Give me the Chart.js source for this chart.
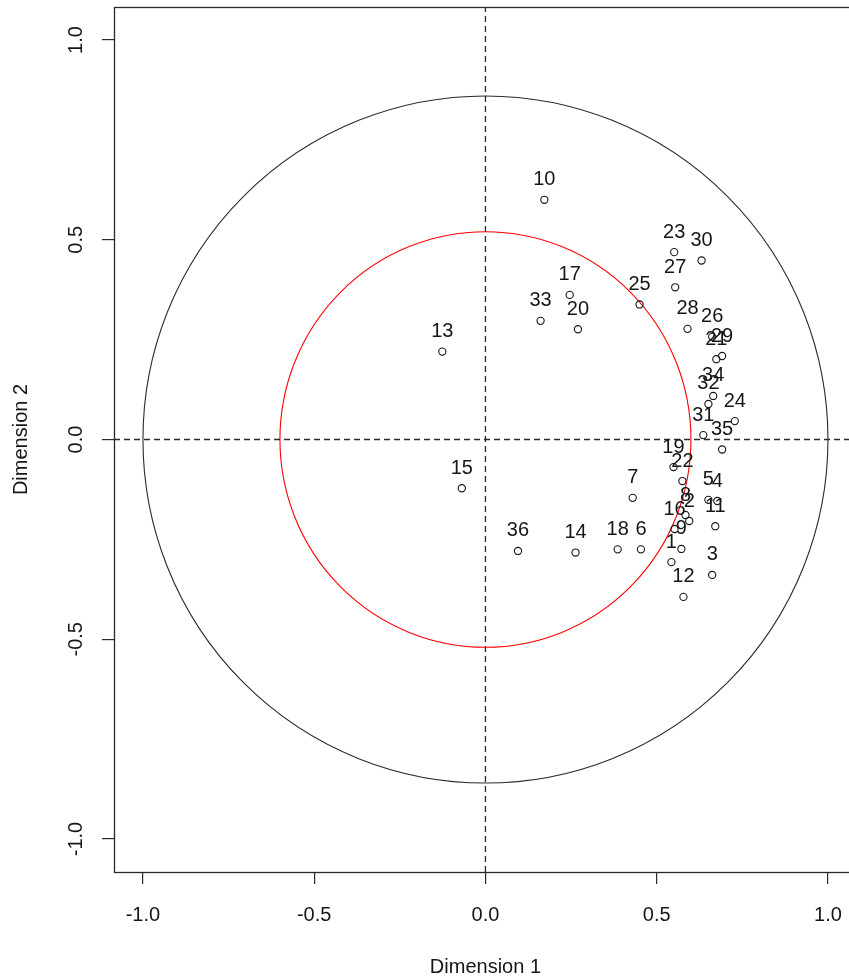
<!DOCTYPE html>
<html>
<head>
<meta charset="utf-8">
<script src="https://cdn.jsdelivr.net/npm/chart.js@4.4.0/dist/chart.umd.min.js"></script>
<style>
  html, body { margin: 0; padding: 0; overflow: hidden; background: #fff; width: 849px; height: 977px; }
  canvas { display: block; }
</style>
</head>
<body>
<canvas id="map" width="862" height="977"></canvas>
<script>
// Variable coordinates on the first two dimensions
const pointLabels = ['1','2','3','4','5','6','7','8','9','10','11','12','13','14','15','16','17','18',
                     '19','20','21','22','23','24','25','26','27','28','29','30','31','32','33','34','35','36'];
const dim1 = [0.543, 0.595, 0.662, 0.677, 0.651, 0.454, 0.430, 0.584, 0.572, 0.172, 0.671, 0.578,
              -0.126, 0.263, -0.069, 0.552, 0.246, 0.386, 0.549, 0.270, 0.674, 0.575, 0.551, 0.728,
              0.450, 0.662, 0.554, 0.590, 0.691, 0.631, 0.636, 0.651, 0.161, 0.665, 0.691, 0.095];
const dim2 = [-0.307, -0.204, -0.339, -0.154, -0.151, -0.275, -0.146, -0.189, -0.274, 0.600, -0.217, -0.394,
              0.220, -0.283, -0.122, -0.224, 0.362, -0.275, -0.069, 0.276, 0.201, -0.104, 0.469, 0.046,
              0.338, 0.257, 0.381, 0.277, 0.209, 0.448, 0.011, 0.089, 0.297, 0.109, -0.025, -0.279];

// Axis ticks and limits
const tickValues = [-1.0, -0.5, 0.0, 0.5, 1.0];
const xLimits = [-1.0845, 1.0845];
const yLimits = [-1.0826, 1.0826];

// Reference ellipses: [radius along Dimension 1, radius along Dimension 2]
const outerCircle = [1.0, 0.86];
const innerCircle = [0.6, 0.52];

const FONT = '"Liberation Sans", Arial, Helvetica, sans-serif';
const INK = '#161616';
const LINE = '#2a2a2a';

const points = dim1.map((x, i) => ({ x: x, y: dim2[i] }));

// Ellipses, plot frame, rotated y tick labels and point labels
const decor = {
  id: 'decor',
  beforeDatasetsDraw(chart) {
    const { ctx, scales: { x, y } } = chart;
    const cx = x.getPixelForValue(0), cy = y.getPixelForValue(0);
    const rings = [[outerCircle, LINE], [innerCircle, '#ff0000']];
    ctx.save();
    rings.forEach(([r, col]) => {
      const rx = x.getPixelForValue(r[0]) - cx;
      const ry = cy - y.getPixelForValue(r[1]);
      ctx.beginPath();
      ctx.ellipse(cx, cy, rx, ry, 0, 0, Math.PI * 2);
      ctx.strokeStyle = col;
      ctx.lineWidth = 1.1;
      ctx.stroke();
    });
    ctx.restore();
  },
  afterDraw(chart) {
    const { ctx, chartArea: a, scales: { x, y } } = chart;
    ctx.save();
    // frame
    ctx.strokeStyle = LINE;
    ctx.lineWidth = 1.3;
    ctx.strokeRect(Math.round(a.left) + 0.5, Math.round(a.top) + 0.5,
                   Math.round(a.right - a.left), Math.round(a.bottom - a.top));
    // y tick labels, parallel to the axis
    ctx.fillStyle = INK;
    ctx.font = '20px ' + FONT;
    ctx.textAlign = 'center';
    ctx.textBaseline = 'middle';
    tickValues.forEach(v => {
      ctx.save();
      ctx.translate(76, y.getPixelForValue(v));
      ctx.rotate(-Math.PI / 2);
      ctx.fillText(v.toFixed(1), 0, 0);
      ctx.restore();
    });
    // point labels above each point
    const meta = chart.getDatasetMeta(2);
    meta.data.forEach((el, i) => {
      ctx.fillText(pointLabels[i], el.x, el.y - 20);
    });
    ctx.restore();
  }
};

new Chart(document.getElementById('map'), {
  type: 'scatter',
  data: {
    datasets: [
      {
        type: 'line',
        data: [{ x: xLimits[0], y: 0 }, { x: xLimits[1], y: 0 }],
        borderColor: LINE, borderWidth: 1.3, borderDash: [6, 4],
        pointRadius: 0, fill: false
      },
      {
        type: 'line',
        data: [{ x: 0, y: yLimits[0] }, { x: 0, y: yLimits[1] }],
        borderColor: LINE, borderWidth: 1.3, borderDash: [6, 4],
        pointRadius: 0, fill: false
      },
      {
        data: points,
        pointStyle: 'circle',
        pointRadius: 3.6,
        borderWidth: 1.1,
        borderColor: INK,
        backgroundColor: 'rgba(255,255,255,0)'
      }
    ]
  },
  options: {
    responsive: false,
    animation: false,
    events: [],
    devicePixelRatio: 1,
    layout: { padding: { top: 7, right: 3, left: 0, bottom: 0 } },
    plugins: { legend: { display: false }, tooltip: { enabled: false } },
    scales: {
      x: {
        type: 'linear',
        min: xLimits[0], max: xLimits[1],
        afterBuildTicks: s => { s.ticks = tickValues.map(v => ({ value: v })); },
        afterFit: s => { s.height = 105; },
        border: { display: false },
        grid: { drawOnChartArea: false, drawTicks: true, tickLength: 12, color: LINE, lineWidth: 1.2 },
        ticks: {
          padding: 19,
          color: INK,
          font: { family: FONT, size: 20 },
          maxRotation: 0, minRotation: 0,
          callback: v => Number(v).toFixed(1)
        },
        title: {
          display: true, text: 'Dimension 1', color: INK,
          font: { family: FONT, size: 20, lineHeight: 1 },
          padding: { top: 0, bottom: 0 }
        }
      },
      y: {
        type: 'linear',
        min: yLimits[0], max: yLimits[1],
        afterBuildTicks: s => { s.ticks = tickValues.map(v => ({ value: v })); },
        afterFit: s => { s.width = 114; },
        border: { display: false },
        grid: { drawOnChartArea: false, drawTicks: true, tickLength: 12, color: LINE, lineWidth: 1.2 },
        ticks: { display: false },
        title: {
          display: true, text: 'Dimension 2', color: INK,
          font: { family: FONT, size: 20, lineHeight: 1 },
          padding: { top: 11, bottom: 0 }
        }
      }
    }
  },
  plugins: [decor]
});
</script>
</body>
</html>
